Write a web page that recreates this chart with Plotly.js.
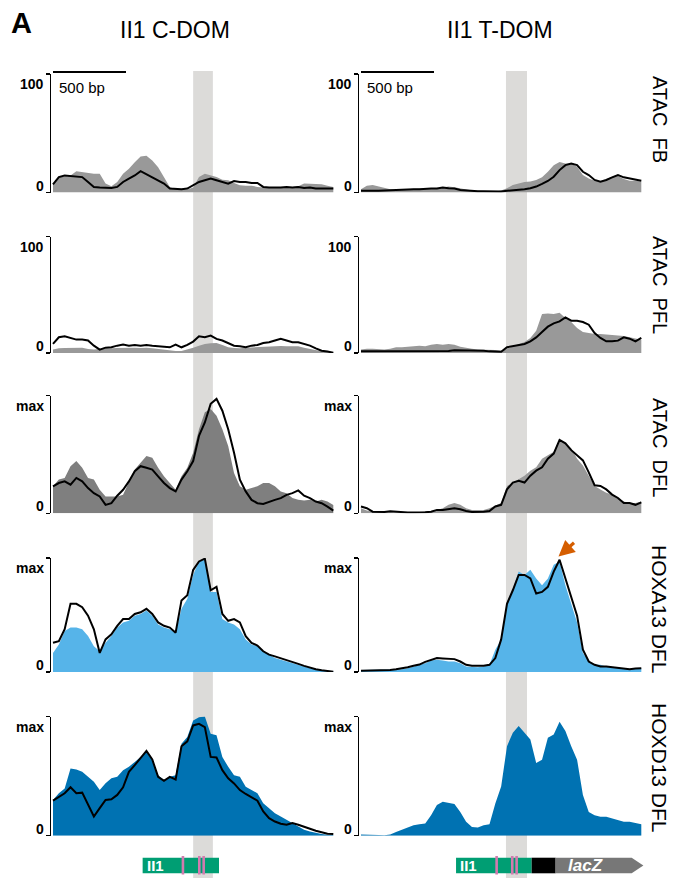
<!DOCTYPE html>
<html>
<head>
<meta charset="utf-8">
<script src="https://cdn.plot.ly/plotly-3.0.1.min.js"></script>
<style>
  html, body { margin: 0; padding: 0; background: #fff; }
  #chart { width: 674px; height: 879px; }
</style>
</head>
<body>
<div id="chart"></div>
<script>
// Bin positions (bp from the left edge of each window)
const pos = [0,40,80,120,160,200,240,280,320,360,400,440,480,520,560,600,640,680,720,760,
  800,840,880,920,960,1000,1040,1080,1120,1160,1200,1240,1280,1320,1360,1400,1440,1480,1520,1560,
  1600,1640,1680,1720,1760,1800,1840,1880,1920];

// ATAC FB (scale 0-100)
const atacFB_C_fill = [7.5,13,13,14.4,18,17.2,16.4,15.8,15.8,7.5,5.3,8.9,15.8,20,25.6,30.3,31.1,27,21.4,13,
  4.7,3,2.5,2.5,4.2,13,15.8,14.4,13,10.8,10.3,8,6.1,5.8,5.8,4.7,4.2,3.9,4.2,4.7,4.7,4.7,5.3,7.5,7.5,6.9,6.9,5.8,4.7];
const atacFB_C_line = [6.9,13,14.4,13.9,13,13,8.9,4.7,4.2,4.2,3.9,4.7,8.9,11.7,14.4,18,15.3,13,10.3,7.5,
  3.3,3,2.8,3.3,6.1,8.9,10.3,11.7,10.3,8.9,7.5,9.7,8.9,8.9,8,8,4.7,4.2,3.9,4.2,4.7,4.2,4.7,3.9,4.2,3.3,3.3,3.3,3.3];
const atacFB_T_fill = [2.8,5.6,6.4,5,3.6,2.8,2.2,2.8,2.8,3.1,3.1,2.8,3.3,3.6,4.4,5,4.4,3.3,2.2,1.7,
  1.4,1.1,1.1,0.8,1.7,3.6,6.4,7.8,8.9,9.2,10.6,12.8,17.5,23.1,25.8,24.4,24.4,21.7,14.7,11.9,10,9.2,11.1,13.3,13.9,11.4,10,10,9.2];
const atacFB_T_line = [1.4,1.1,1.4,1.4,1.7,2.2,2.2,2.8,2.5,2.8,2.8,3.3,3.3,3.3,4.2,3.6,3.3,2.2,1.7,1.4,
  1.1,1.1,0.8,0.8,0.8,1.4,1.7,2.2,2.8,3.6,5,7.2,9.7,13.3,18.9,23.1,24.4,23.1,17.5,14.7,10.6,9.2,10.6,12.8,14.7,12.8,11.9,10.6,10];

// ATAC PFL (scale 0-100)
const atacPFL_C_fill = [2.9,4.0,4.3,4.6,4.9,4.6,3.5,2.9,3.5,4.0,4.0,4.3,4.6,4.3,4.6,4.3,4.6,4.0,3.5,2.9,
  2.0,1.7,1.7,2.9,4.6,6.3,7.8,8.4,8.6,6.9,4.9,4.3,4.0,4.6,4.9,5.2,5.8,6.1,6.3,6.1,5.8,5.8,5.8,4.6,3.5,2.3,1.4,0.9,0.6];
const atacPFL_C_line = [7.8,13.5,14.4,12.7,11.5,11.5,10.7,6.3,2.9,4.6,4.9,6.3,7.2,6.3,6.9,6.3,6.9,6.3,5.8,5.5,
  4.9,7.2,4.9,6.9,9.8,14.4,13.5,15.0,12.1,10.7,8.6,6.3,5.8,4.9,6.3,6.9,8.6,9.2,10.7,12.1,10.7,9.2,9.2,7.8,6.3,4.0,2.0,1.2,0.3];
const atacPFL_T_fill = [2.9,3.7,3.7,3.4,3.1,3.7,4.9,4.9,5.4,6.0,6.3,5.7,7.1,7.7,7.1,7.7,7.1,5.4,4.3,3.7,
  3.1,3.1,2.9,2.6,2.0,3.7,5.4,7.1,9.4,12.9,19.1,33.4,34,33.4,34.6,30,26.6,21.4,18,17.1,16.3,16.3,15.7,15.7,15.1,14.6,13.4,12.3,11.4];
const atacPFL_T_line = [1.4,1.4,1.1,1.1,1.4,1.1,1.1,1.1,1.1,1.1,1.1,1.4,1.4,1.4,1.7,1.7,2.3,2.3,2.3,2.6,
  2.3,2.0,1.4,1.1,1.1,4.9,6.0,6.6,7.7,10,13.4,18,22.6,25.4,27.1,30.6,27.7,27.7,26.6,24.3,17.1,12.9,10,10,10.6,13.4,12.3,10,12.9];

// ATAC DFL (scale 0-max)
const atacDFL_C_fill = [22.9,28.6,30,40,44.3,38.6,30,28.6,20,14.3,14.3,14.3,15.7,25.7,37.1,42.9,48.6,47.1,38.6,31.4,
  25.7,20,31.4,38.6,51.4,71.4,85.7,88.6,82.9,71.4,57.1,34.3,22.9,20,21.4,22.9,25.7,25.7,22.9,18.6,17.1,12.9,11.4,10.9,11.4,10,11.4,10,7.1];
const atacDFL_C_line = [22.9,25.7,27.1,24.3,30,27.1,21.4,17.1,14.3,7.1,8.6,14.9,20,27.1,35.7,40,38.6,37.1,31.4,25.7,
  21.4,18.6,28.6,35.7,44.3,65.7,77.1,92.9,97.1,87.1,71.4,51.4,28.6,18.6,11.4,8.6,8,10,11.4,12.9,15.7,17.1,19.4,14.9,12.9,10,8.6,5.7,2.3];
const atacDFL_T_fill = [4.3,2.3,1.4,1.2,0.9,0.9,0.9,0.6,0.6,0.6,0.9,1.4,2.0,2.9,4.3,7.2,8.7,7.2,4.3,2.9,
  2.9,2.9,4.3,6.4,8.7,23.2,26.1,29,31.9,36.2,39.1,46.4,49.3,52.2,62.3,59.4,55.1,46.4,40.6,31.9,23.2,20.3,17.4,15.9,13,10.1,8.7,8.7,10.1];
const atacDFL_T_line = [5.8,4.3,1.4,1.2,1.2,1.7,1.2,0.6,0.6,0.6,0.6,0.9,1.4,2.9,2.9,3.5,4.3,3.5,2.0,1.2,
  1.2,1.4,2.0,5.8,7.2,20.3,26.1,27.5,26.1,31.9,36.2,39.1,46.4,50.7,62.3,59.4,53.6,49.3,44.9,34.8,23.8,23.2,20.3,15.9,13,8.7,8.7,7.2,9.3];

// HOXA13 DFL ChIP (scale 0-max)
const hoxa13_C_fill = [16.7,24.1,36,39,39,37.5,31.5,22.6,18.2,25.6,31.5,39,43.5,44.9,49.4,50.9,53.9,49.4,41.7,39,
  37.5,34.5,55.4,64.3,85.1,97,98.5,70.2,70.2,46.4,43.5,41.7,37.5,28.6,24.1,22.6,18.2,15.2,12.2,10.7,9.2,7.7,6.3,4.8,3.3,2.4,1.8,1.2,0.6];
const hoxa13_C_line = [25.6,27.1,37.5,59.8,59.8,56.8,49.4,37.5,16.7,28.6,33,40.5,46.4,46.4,50.9,52.4,55.4,50.9,43.5,40.5,
  39,34.5,62.8,67.3,89.6,97,99.4,71.7,74.7,50.9,44.9,46.4,43.5,31.5,25.6,23.2,18.2,15.2,13.7,12.2,10.7,8.9,7.1,5.4,3.6,2.4,1.5,0.9,0.3];
const hoxa13_T_fill = [1.8,1.8,1.8,1.8,1.8,1.8,2.1,2.4,3.3,4.8,6.3,7.7,10.1,10.7,10.1,9.2,9.2,7.7,4.8,4.2,
  4.2,4.8,6.3,19.6,28.6,61.3,73.2,88.1,85.1,89.6,82.1,76.2,82.1,94,97,76.2,59.8,43.5,16.7,9.2,6.3,6.3,4.8,4.2,4.2,3.3,2.4,3.3,3.3];
const hoxa13_T_line = [1.2,1.2,1.5,1.5,1.8,1.8,2.4,3,4.2,5.4,6.5,8.9,10.7,12.2,11.9,11.3,11.3,9.2,6.3,5.4,
  5.4,5.4,6.3,12.2,28.6,59.8,71.7,85.1,85.1,82.1,68.8,70.2,74.7,88.1,98.5,82.1,65.8,49.4,19.6,9.2,6.3,4.8,4.8,4.2,3.6,3.3,2.4,3.0,3.3];

// HOXD13 DFL ChIP (scale 0-max)
const hoxd13_C_fill = [30,35.6,39.7,56.4,55.6,53.6,49.4,45.3,38.3,43.9,48.1,49.4,55,57.8,61.9,66.1,70.3,63.3,50.8,46.7,
  49.4,50.8,77.2,82.8,96.7,99.4,100,85.6,84.2,66.1,57.8,50.8,49.4,41.1,38.3,35.6,27.2,23.1,18.9,16.1,13.3,10.6,7.8,5,3.6,2.2,1.4,0.8,0.6];
const hoxd13_C_line = [29.4,32.8,35.6,40.6,35.6,36.1,26.7,16.1,23.1,30,30.6,34.2,40.6,53.6,59.2,64.7,71.1,63.9,49.4,46.1,
  49.4,47.2,75,79.2,92.5,93.9,91.1,66.1,65.6,55,48.1,43.9,38.3,35,32.2,29.4,20.3,14.7,11.9,10,9.2,10.6,9.2,7.8,5.8,4.2,2.8,1.7,1.4];
const hoxd13_T_fill = [1.1,1.1,0.8,0.6,0.3,1.1,3.1,5.1,7.3,8.8,9.6,10.2,17.2,25.7,28.5,27.7,26.6,19.8,11.6,7.3,
  6.8,8.8,9.6,27.1,41.2,75.1,86.4,92.1,86.4,80.8,61,63.8,82.2,85,95.5,87.9,75.1,63.8,34.2,19.8,17.2,15.8,15.8,14.4,13.6,11.6,11.6,10.7,9.6];

// Text
const columnTitles = ['II1 C-DOM', 'II1 T-DOM'];
const trackNames = ['ATAC  FB', 'ATAC  PFL', 'ATAC  DFL', 'HOXA13 DFL', 'HOXD13 DFL'];
const topTicks = ['100', '100', 'max', 'max', 'max'];

// Annotated features (bp)
const hlC = [960, 1095];           // highlighted element, C-DOM window
const hlT = [993, 1137];           // highlighted element, T-DOM window
const il1C = [614, 1137];          // II1 element, C-DOM window
const il1T = [651, 1169];          // II1 element, T-DOM window
const motifsC = [890, 1002, 1032]; // HOX13 sites
const motifsT = [929, 1036, 1066];
const promoterT = [1169, 1333];
const lacZ = [1333, 1854, 1934];   // body start, head start, tip
const scaleBar = [0, 500];

// ---------- drawing ----------
const W = 674, H = 879;
const FONT = 'Liberation Sans, Arial, Helvetica, sans-serif';
const fx = v => v / W;
const fy = v => 1 - v / H;

const GRAY = '#999999', DARKGRAY = '#7f7f7f', SKY = '#56B4E9', BLUE = '#0072B2';
const colPx = { C: [51, 336], T: [359, 644] };
const rowPx = [[74, 192.5], [236.5, 353], [395.5, 513.3], [558, 672], [716.5, 835.7]];
const xRange = [-13.7, 1938.4];

const tracks = [
  { C: { fill: atacFB_C_fill, line: atacFB_C_line, color: GRAY },
    T: { fill: atacFB_T_fill, line: atacFB_T_line, color: GRAY } },
  { C: { fill: atacPFL_C_fill, line: atacPFL_C_line, color: GRAY },
    T: { fill: atacPFL_T_fill, line: atacPFL_T_line, color: GRAY } },
  { C: { fill: atacDFL_C_fill, line: atacDFL_C_line, color: DARKGRAY },
    T: { fill: atacDFL_T_fill, line: atacDFL_T_line, color: GRAY } },
  { C: { fill: hoxa13_C_fill, line: hoxa13_C_line, color: SKY },
    T: { fill: hoxa13_T_fill, line: hoxa13_T_line, color: SKY } },
  { C: { fill: hoxd13_C_fill, line: hoxd13_C_line, color: BLUE },
    T: { fill: hoxd13_T_fill, line: null, color: BLUE } }
];

const data = [];
const layout = {
  width: W, height: H,
  margin: { l: 0, r: 0, t: 0, b: 0 },
  paper_bgcolor: '#ffffff',
  plot_bgcolor: 'rgba(0,0,0,0)',
  showlegend: false,
  font: { family: FONT, color: '#000' },
  shapes: [],
  annotations: []
};

tracks.forEach((row, r) => {
  ['C', 'T'].forEach((c, ci) => {
    const n = 2 * r + ci + 1;
    const sfx = n === 1 ? '' : String(n);
    const tr = row[c];
    data.push({
      x: pos, y: tr.fill, type: 'scatter', mode: 'lines',
      fill: 'tozeroy', fillcolor: tr.color,
      line: { width: 0, color: tr.color },
      xaxis: 'x' + sfx, yaxis: 'y' + sfx, hoverinfo: 'skip'
    });
    if (tr.line) {
      data.push({
        x: pos, y: tr.line, type: 'scatter', mode: 'lines',
        line: { width: 2, color: '#000' },
        xaxis: 'x' + sfx, yaxis: 'y' + sfx, hoverinfo: 'skip'
      });
    }
    layout['xaxis' + sfx] = {
      domain: [fx(colPx[c][0]), fx(colPx[c][1])],
      range: xRange, visible: false, fixedrange: true, anchor: 'y' + sfx
    };
    layout['yaxis' + sfx] = {
      domain: [fy(rowPx[r][1]), fy(rowPx[r][0])],
      range: [0, 100], fixedrange: true, anchor: 'x' + sfx,
      showline: true, linecolor: '#000', linewidth: 1.5,
      ticks: 'outside', ticklen: 4, tickwidth: 1.5, tickcolor: '#000',
      tickvals: [0, 100], showticklabels: false,
      showgrid: false, zeroline: false
    };
    // bracket labels
    layout.annotations.push({
      xref: 'paper', yref: 'paper', x: fx(colPx[c][0] - 5), y: fy(rowPx[r][0]),
      xanchor: 'right', yanchor: 'top', showarrow: false,
      text: '<b>' + topTicks[r] + '</b>', font: { size: 14, family: FONT }
    });
    layout.annotations.push({
      xref: 'paper', yref: 'paper', x: fx(colPx[c][0] - 5), y: fy(rowPx[r][1]),
      xanchor: 'right', yanchor: 'bottom', yshift: -3, showarrow: false,
      text: '<b>0</b>', font: { size: 14, family: FONT }
    });
  });
  // track name on the right
  layout.annotations.push({
    xref: 'paper', yref: 'paper', x: fx(660), y: fy([119, 285, 447, 609, 768][r]),
    xanchor: 'center', yanchor: 'middle', textangle: 90, showarrow: false,
    text: trackNames[r], font: { size: r >= 3 ? 21 : 20, family: FONT }
  });
});

// highlighted element bands
[['x', hlC], ['x2', hlT]].forEach(([xr, b]) => {
  layout.shapes.push({
    type: 'rect', xref: xr, yref: 'paper', x0: b[0], x1: b[1],
    y0: fy(878), y1: fy(71), fillcolor: '#dcdbd9', line: { width: 0 }, layer: 'below'
  });
});

// 500 bp scale bars
['x', 'x2'].forEach((xr, i) => {
  layout.shapes.push({
    type: 'line', xref: xr, yref: 'paper', x0: scaleBar[0], x1: scaleBar[1],
    y0: fy(72), y1: fy(72), line: { color: '#000', width: 2 }
  });
  layout.annotations.push({
    xref: 'paper', yref: 'paper', x: fx(i === 0 ? 57 : 365), y: fy(88),
    xanchor: 'left', yanchor: 'middle', showarrow: false,
    text: '500 bp', font: { size: 15, family: FONT }
  });
});

// feature track at the bottom
const gy0 = fy(873.3), gy1 = fy(857.7), gmid = fy(865.5);
layout.shapes.push({ type: 'rect', xref: 'x', yref: 'paper', x0: il1C[0], x1: il1C[1], y0: gy0, y1: gy1,
  fillcolor: '#009E73', line: { width: 0 } });
layout.shapes.push({ type: 'rect', xref: 'x2', yref: 'paper', x0: il1T[0], x1: il1T[1], y0: gy0, y1: gy1,
  fillcolor: '#009E73', line: { width: 0 } });
layout.shapes.push({ type: 'rect', xref: 'x2', yref: 'paper', x0: promoterT[0], x1: promoterT[1], y0: gy0, y1: gy1,
  fillcolor: '#000000', line: { width: 0 } });
layout.shapes.push({ type: 'path', xref: 'x2', yref: 'paper',
  path: `M ${lacZ[0]},${gy0} L ${lacZ[1]},${gy0} L ${lacZ[2]},${gmid} L ${lacZ[1]},${gy1} L ${lacZ[0]},${gy1} Z`,
  fillcolor: '#777777', line: { width: 0 } });
[['x', motifsC], ['x2', motifsT]].forEach(([xr, list]) => {
  list.forEach(m => layout.shapes.push({
    type: 'line', xref: xr, yref: 'paper', x0: m, x1: m, y0: fy(874.5), y1: fy(856),
    line: { color: '#D27AAE', width: 2.6 }
  }));
});
layout.annotations.push({ xref: 'x', yref: 'paper', x: il1C[0] + 16, y: gmid, xanchor: 'left', yanchor: 'middle',
  showarrow: false, text: '<b>II1</b>', font: { size: 15, color: '#fff', family: FONT } });
layout.annotations.push({ xref: 'x2', yref: 'paper', x: il1T[0] + 14, y: gmid, xanchor: 'left', yanchor: 'middle',
  showarrow: false, text: '<b>II1</b>', font: { size: 15, color: '#fff', family: FONT } });
layout.annotations.push({ xref: 'x2', yref: 'paper', x: 1541, y: gmid, xanchor: 'center', yanchor: 'middle',
  showarrow: false, text: '<b><i>lacZ</i></b>', font: { size: 17, color: '#fff', family: FONT } });

// column titles and panel letter
layout.annotations.push({ xref: 'paper', yref: 'paper', x: fx(175), y: fy(30), xanchor: 'center', yanchor: 'middle',
  showarrow: false, text: columnTitles[0], font: { size: 23, family: FONT } });
layout.annotations.push({ xref: 'paper', yref: 'paper', x: fx(500), y: fy(30), xanchor: 'center', yanchor: 'middle',
  showarrow: false, text: columnTitles[1], font: { size: 23, family: FONT } });
layout.annotations.push({ xref: 'paper', yref: 'paper', x: fx(9), y: fy(23), xanchor: 'left', yanchor: 'middle',
  showarrow: false, text: '<b>A</b>', font: { size: 29, family: FONT } });

// arrow pointing at the HOXA13 summit
layout.annotations.push({ xref: 'paper', yref: 'paper', x: fx(558.5), y: fy(556.5), text: '',
  showarrow: true, arrowhead: 2, arrowsize: 1, arrowwidth: 3.2, arrowcolor: '#D55E00',
  ax: 17, ay: -15, standoff: 0 });

Plotly.newPlot('chart', data, layout, { displayModeBar: false, staticPlot: true });
</script>
</body>
</html>
